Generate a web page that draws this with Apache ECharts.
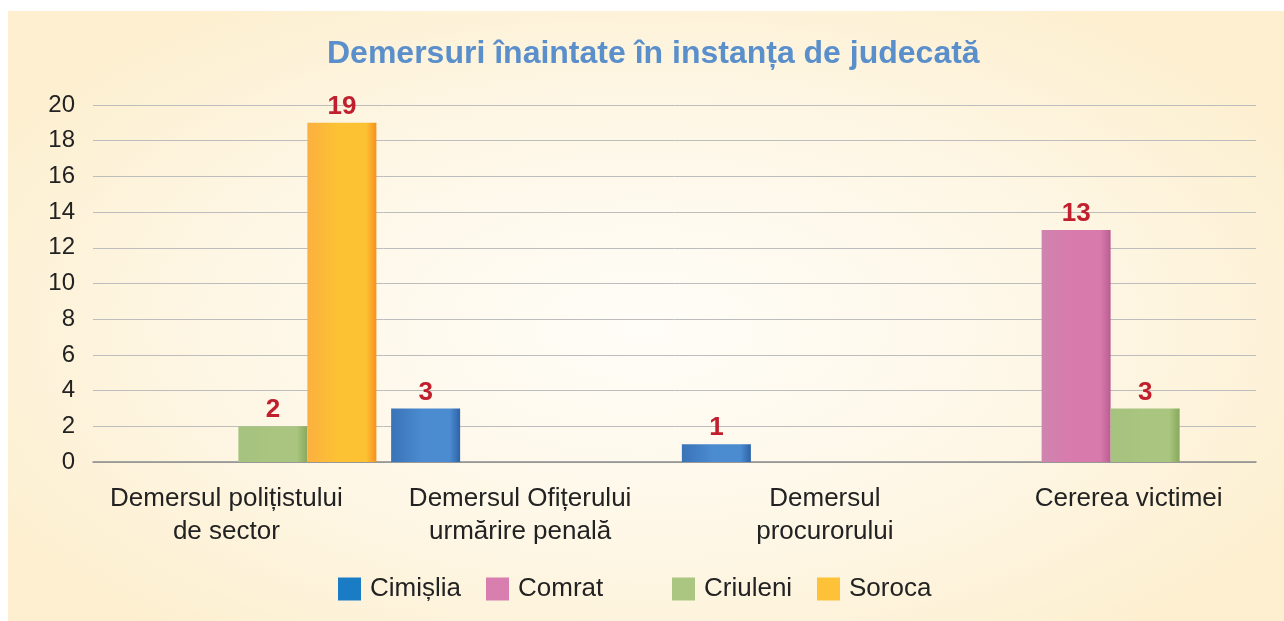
<!DOCTYPE html>
<html>
<head>
  <meta charset="utf-8">
  <title>Demersuri</title>
  <script src="https://cdn.jsdelivr.net/npm/echarts@6/dist/echarts.min.js"></script>
  <style>
    body { margin: 0; background: #fff; }
    #chart {
      width: 1284px; height: 621px;
      background: radial-gradient(ellipse 60% 65% at 50% 52%, #fffdf8 0%, #fef7e6 55%, #fdefcf 100%) 8px 11px / 1276px 610px no-repeat, #fff;
    }
  </style>
</head>
<body>
  <div id="chart"></div>
  <script>
    const categories = [
      'Demersul polițistului\nde sector',
      'Demersul Ofițerului\nurmărire penală',
      'Demersul\nprocurorului',
      'Cererea victimei'
    ];
    const seriesNames = ['Cimișlia', 'Comrat', 'Criuleni', 'Soroca'];
    const cimislia = [null, 3, 1, null];
    const comrat = [null, null, null, 13];
    const criuleni = [2, null, null, 3];
    const soroca = [19, null, null, null];

    // flat colours for the legend, shaded ones for the bars
    const legendColors = ['#1a7cc4', '#d87fb0', '#abc681', '#fec238'];
    const barShades = [
      ['#3a73b8', '#4b8bd0', '#2d63a8'],
      ['#cf84b0', '#d97aac', '#b95d92'],
      ['#a5c27f', '#a9c57f', '#88a85b'],
      ['#fbb040', '#fdc233', '#f7901e']
    ];

    function shade(c) {
      return {
        type: 'linear', x: 0, y: 0, x2: 1, y2: 0,
        colorStops: [
          { offset: 0, color: c[0] },
          { offset: 0.45, color: c[1] },
          { offset: 0.85, color: c[1] },
          { offset: 1, color: c[2] }
        ]
      };
    }

    const values = [cimislia, comrat, criuleni, soroca];
    const series = seriesNames.map((name, i) => ({
      name: name,
      type: 'bar',
      data: values[i],
      barWidth: 69,
      barGap: '0%',
      itemStyle: { color: shade(barShades[i]) },
      label: {
        show: true,
        position: 'top',
        distance: 3,
        color: '#c0202e',
        fontWeight: 'bold',
        fontSize: 26,
        fontFamily: 'Liberation Sans'
      }
    }));

    const legendLeft = [338, 486, 672, 817];
    const legends = seriesNames.map((name, i) => ({
      data: [{ name: name, itemStyle: { color: legendColors[i] } }],
      left: legendLeft[i],
      top: 576,
      padding: 0,
      icon: 'rect',
      itemWidth: 23,
      itemHeight: 23,
      selectedMode: false,
      textStyle: {
        fontSize: 26,
        color: '#222',
        fontFamily: 'Liberation Sans',
        padding: [0, 0, 0, 4]
      }
    }));

    // small nudges so the category labels sit where they do in the original
    const labelPad = [[0, 24, 0, 0], [0, 18, 0, 0], [0, 0, 0, 10], [0, 0, 0, 36]];
    const xData = categories.map((c, i) => ({ value: c, textStyle: { padding: labelPad[i] } }));

    let myChart = echarts.init(document.getElementById('chart'));
    myChart.setOption({
      backgroundColor: 'transparent',
      animation: false,
      title: {
        text: 'Demersuri înaintate în instanța de judecată',
        left: 327,
        top: 38,
        padding: 0,
        textStyle: {
          color: '#5a8fcb',
          fontSize: 32,
          fontWeight: 'bold',
          fontFamily: 'Liberation Sans'
        }
      },
      legend: legends,
      grid: { left: 93, right: 28, top: 105, bottom: 159 },
      xAxis: {
        type: 'category',
        data: xData,
        axisTick: { show: false },
        axisLine: { lineStyle: { color: '#8c8c8c', width: 1.5 } },
        axisLabel: {
          fontSize: 26,
          lineHeight: 33,
          margin: 20,
          color: '#222',
          fontFamily: 'Liberation Sans',
          interval: 0
        }
      },
      yAxis: {
        type: 'value',
        min: 0,
        max: 20,
        interval: 2,
        axisLine: { show: false },
        axisTick: { show: false },
        splitLine: { lineStyle: { color: '#bdbdbd', width: 1 } },
        axisLabel: {
          fontSize: 24,
          margin: 18,
          color: '#222',
          fontFamily: 'Liberation Sans'
        }
      },
      series: series
    });
  </script>
</body>
</html>
